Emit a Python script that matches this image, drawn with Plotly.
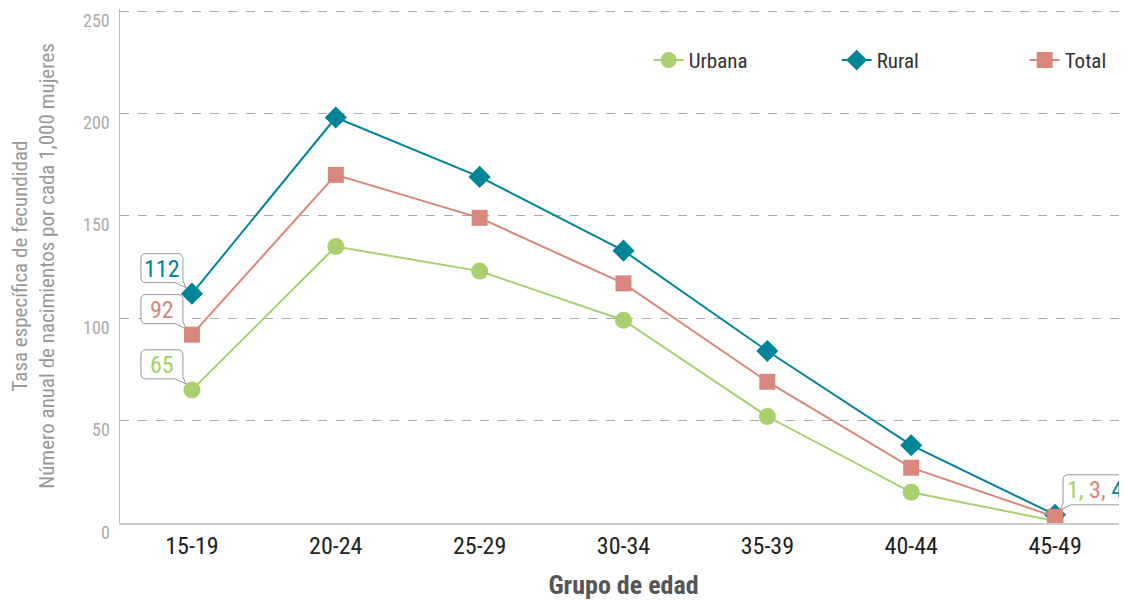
import plotly.graph_objects as go

categories = ["15-19", "20-24", "25-29", "30-34", "35-39", "40-44", "45-49"]
urbana = [65, 135, 123, 99, 52, 15, 1]
rural = [112, 198, 169, 133, 84, 38, 4]
total = [92, 170, 149, 117, 69, 27, 3]
y_ticks = [0, 50, 100, 150, 200, 250]
y_tick_labels = ["0", "50", "100", "150", "200", "250"]

C_URB = "#a9d06f"
C_RUR = "#00849a"
C_TOT = "#d9877a"
FONT = "Roboto Condensed, Liberation Sans Narrow, DejaVu Sans Condensed, Roboto, sans-serif"

fig = go.Figure()
fig.add_trace(go.Scatter(x=categories, y=urbana, name="Urbana", mode="lines+markers",
                         line=dict(color=C_URB, width=2),
                         marker=dict(symbol="circle", size=17, color=C_URB)))
fig.add_trace(go.Scatter(x=categories, y=rural, name="Rural", mode="lines+markers",
                         line=dict(color=C_RUR, width=2),
                         marker=dict(symbol="diamond", size=17, color=C_RUR)))
fig.add_trace(go.Scatter(x=categories, y=total, name="Total", mode="lines+markers",
                         line=dict(color=C_TOT, width=2),
                         marker=dict(symbol="square", size=16, color=C_TOT)))


def bubble_left(L, R, B, T, r=5):
    # tail at bottom-right
    return (f"M {L},{T-r} Q {L},{T} {L+r},{T} L {R-r},{T} Q {R},{T} {R},{T-r} "
            f"L {R},{B+2} L {R+3},{B-5} L {R-8},{B} L {L+r},{B} Q {L},{B} {L},{B+r} Z")


def bubble_right(L, R, B, T, r=5):
    # tail at bottom-left
    return (f"M {L},{B+2} L {L},{T-r} Q {L},{T} {L+r},{T} L {R-r},{T} Q {R},{T} {R},{T-r} "
            f"L {R},{B+r} Q {R},{B} {R-r},{B} L {L+8},{B} L {L-3},{B-5} Z")


shapes = []
annotations = []
for vals, col in [(rural, C_RUR), (total, C_TOT), (urbana, C_URB)]:
    shapes.append(dict(type="path", xref="x", yref="y", xsizemode="pixel", ysizemode="pixel",
                       xanchor=categories[0], yanchor=vals[0],
                       path=bubble_left(-51, -9, 11, 40),
                       line=dict(color="#999999", width=1), fillcolor="white", layer="above"))
    annotations.append(dict(x=categories[0], y=vals[0], xref="x", yref="y", text=str(vals[0]),
                            showarrow=False, xshift=-30, yshift=25,
                            font=dict(family=FONT, size=24, color=col)))

shapes.append(dict(type="path", xref="x", yref="y", xsizemode="pixel", ysizemode="pixel",
                   xanchor=categories[-1], yanchor=rural[-1],
                   path=bubble_right(8, 80, 10, 40),
                   line=dict(color="#999999", width=1), fillcolor="white", layer="above"))
last_txt = (f"<span style='color:{C_URB}'>{urbana[-1]}, </span>"
            f"<span style='color:{C_TOT}'>{total[-1]}, </span>"
            f"<span style='color:{C_RUR}'>{rural[-1]}</span>")
annotations.append(dict(x=categories[-1], y=rural[-1], xref="x", yref="y", text=last_txt,
                        showarrow=False, xanchor="left", xshift=10, yshift=25,
                        font=dict(family=FONT, size=24)))

for v, lab in zip(y_ticks, y_tick_labels):
    annotations.append(dict(x=0, xref="paper", y=v, yref="y", text=lab, showarrow=False,
                            xanchor="right", xshift=-8, yshift=-9,
                            font=dict(family=FONT, size=18, color="#aaaaaa")))

# page body has an 8px default margin: figure is sized/offset to compensate
fig.update_layout(
    width=1119, height=592,
    margin=dict(l=112, r=0, t=1, b=77, autoexpand=False),
    paper_bgcolor="white", plot_bgcolor="white",
    font=dict(family=FONT),
    showlegend=True,
    legend=dict(orientation="h", x=0.525, xanchor="left", y=0.90, yanchor="middle",
                font=dict(family=FONT, size=21, color="#333333"),
                entrywidth=143, bgcolor="rgba(0,0,0,0)"),
    shapes=shapes,
    annotations=annotations,
)
fig.update_xaxes(range=[-0.5, 6.5], showgrid=False, showline=True, linecolor="#cccccc", linewidth=2,
                 ticks="", tickfont=dict(family=FONT, size=24, color="#222222"),
                 ticklabelstandoff=0, automargin=False,
                 title=dict(text="<b>Grupo de edad</b>", standoff=20,
                            font=dict(family=FONT, size=26, color="#555555")))
fig.update_yaxes(range=[0, 251], tickvals=y_ticks, showticklabels=False, showgrid=True,
                 gridcolor="#aaaaaa", griddash="dash", gridwidth=1, automargin=False,
                 showline=True, linecolor="#bbbbbb", linewidth=1, zeroline=False, ticks="",
                 title=dict(text="Tasa específica de fecundidad<br>Número anual de nacimientos por cada 1,000 mujeres",
                            standoff=59, font=dict(family=FONT, size=21, color="#999999")))

fig.write_html("out.html")
